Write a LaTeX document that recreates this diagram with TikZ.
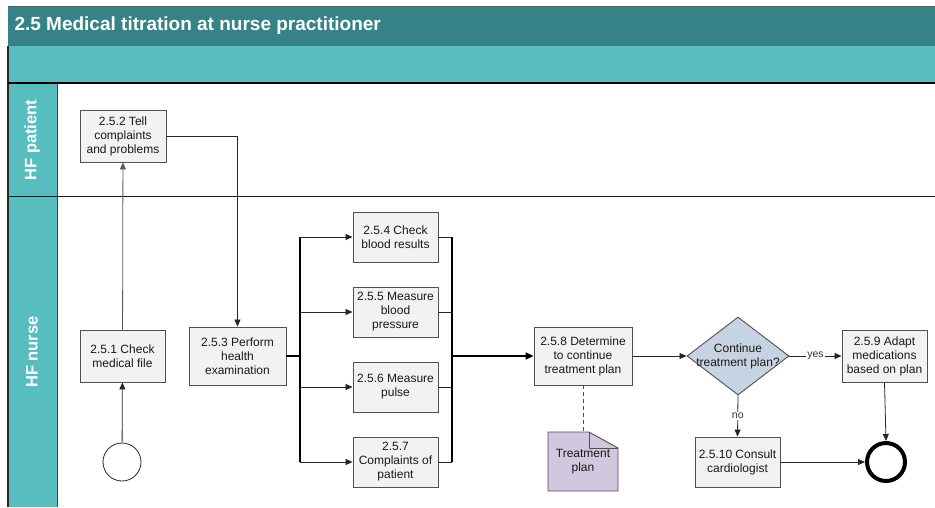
\documentclass[tikz,border=0pt]{standalone}
\usepackage{fontspec}
\setmainfont{Liberation Sans}
\usetikzlibrary{arrows.meta,shapes.geometric,calc}

\definecolor{titleteal}{HTML}{358387}
\definecolor{laneteal}{HTML}{57BDBE}
\definecolor{boxfill}{HTML}{F2F2F2}
\definecolor{boxline}{HTML}{505050}
\definecolor{gatefill}{HTML}{C6D3E3}
\definecolor{docfill}{HTML}{D1C7DE}

\begin{document}
\begin{tikzpicture}[x=1pt,y=-1pt,
  task/.style={draw=boxline, fill=boxfill, line width=0.9pt,
    minimum width=85pt, minimum height=50pt, inner sep=0pt,
    align=center, font=\fontsize{12}{14}\selectfont, text=black!90},
  gate/.style={diamond, draw=boxline, fill=gatefill, line width=0.9pt,
    minimum width=102pt, minimum height=78pt, inner sep=0pt},
  gatetext/.style={align=center, font=\fontsize{12}{14}\selectfont, text=black!90, inner sep=0pt},
  startev/.style={circle, draw=black!85, fill=white, line width=0.8pt, minimum size=38pt, inner sep=0pt},
  endev/.style={circle, draw=black, fill=white, line width=4pt, minimum size=38pt, inner sep=0pt},
  flow/.style={draw=black!85, line width=0.8pt, -{Triangle[length=7pt,width=6pt]}},
  trunk/.style={draw=black, line width=1.8pt},
  assoc/.style={draw=black!70, line width=0.8pt, dashed, dash pattern=on 4pt off 3pt},
  lanelabel/.style={rotate=90, text=white, font=\fontsize{16.5}{18}\selectfont\bfseries},
  branchlbl/.style={fill=white, inner sep=1pt, font=\fontsize{10.5}{12}\selectfont, text=black!80},
  docshape/.style={draw=boxline, fill=docfill, line width=0.9pt},
  doctext/.style={minimum width=70pt, minimum height=59pt, inner sep=0pt, align=center,
    font=\fontsize{12}{14}\selectfont, text=black!90}]

\useasboundingbox (0,0) rectangle (935,507);
\fill[white] (0,0) rectangle (935,507);

% pool header and lanes
\fill[titleteal] (8,6) rectangle (935,46);
\draw[black!65, line width=0.8pt] (8,6) -- (935,6);
\fill[laneteal] (8,46) rectangle (935,83);
\fill[laneteal] (8,83) rectangle (57,507);
\draw[black!75, line width=0.9pt] (57,83) -- (57,507);
\draw[black!85, line width=1.3pt] (8,46) -- (8,507);
\draw[black, line width=1.4pt] (8,83) -- (935,83);
\draw[black!90, line width=1pt] (8,196) -- (935,196);

\node[anchor=west, text=white, font=\fontsize{19}{22}\selectfont\bfseries] (title) at (11,26)
  {2.5 Medical titration at nurse practitioner};
\node[lanelabel] (lanepatient) at (32,140) {HF patient};
\node[lanelabel] (lanenurse) at (32,352) {HF nurse};

% activities
\node[task, minimum width=86pt, minimum height=52pt] (t2) at (123,136) {2.5.2 Tell\\complaints\\and problems};
\node[task, minimum height=52pt] (t1) at (122.5,356) {2.5.1 Check\\medical file};
\node[task, minimum width=97pt, minimum height=58pt] (t3) at (237.5,356) {2.5.3 Perform\\health\\examination};
\node[task] (t4) at (395.5,237) {2.5.4 Check\\blood results};
\node[task] (t5) at (395.5,312) {2.5.5 Measure\\blood\\pressure};
\node[task] (t6) at (395.5,387) {2.5.6 Measure\\pulse};
\node[task] (t7) at (395.5,462) {2.5.7\\Complaints of\\patient};
\node[task, minimum width=98pt, minimum height=58pt] (t8) at (583,356) {2.5.8 Determine\\to continue\\treatment plan};
\node[gate] (g) at (738,356) {};
\node[gatetext] (gtext) at (g) {Continue\\treatment plan?};
\node[task, minimum height=52pt] (t9) at (884.5,356) {2.5.9 Adapt\\medications\\based on plan};
\node[task] (t10) at (737.5,462) {2.5.10 Consult\\cardiologist};

% events
\node[startev] (start) at (122,462) {};
\node[endev] (end) at (886,462) {};

% data object
\coordinate (docc) at (583,461.5);
\filldraw[docshape] ($(docc)+(-35,-29.5)$) -- ++(41,0) -- ++(29,16)
  -- ($(docc)+(35,29.5)$) -- ($(docc)+(-35,29.5)$) -- cycle;
\draw[docshape, fill=none] ($(docc)+(6,-29.5)$) -- ++(0,16) -- ++(29,0);
\node[doctext] (doc) at (docc) {Treatment\\plan};

% sequence flows
\draw[flow] (start) -- (t1);
\draw[flow, draw=black!65] (t1) -- (t2);
\draw[flow] (t2.east) -| (t3.north);

\coordinate (fork) at (300,356);
\coordinate (join) at (452,356);
\draw[trunk] (t3.east) -- (fork);
\draw[draw=black, line width=1.2pt] (fork |- t4.west) -- (fork |- t7.west);
\foreach \t in {t4,t5,t6,t7} {
  \draw[flow] (fork |- \t.west) -- (\t.west);
  \draw[draw=black!85, line width=0.8pt] (\t.east) -- (join |- \t.east);
}
\draw[draw=black, line width=1.2pt] (join |- t4.east) -- (join |- t7.east);
\draw[trunk, -{Triangle[length=8pt,width=7pt]}] (join) -- (t8.west);

\draw[flow] (t8.east) -- (g.west);
\draw[flow] (g.east) -- node[branchlbl] {yes} (t9.west);
\draw[flow] (g.south) -- node[branchlbl] {no} (t10.north);
\draw[flow] (t9.south) -- (end.north);
\draw[flow] (t10.east) -- (end.west);

% association
\draw[assoc] (t8.south) -- (doc.north);
\end{tikzpicture}
\end{document}
